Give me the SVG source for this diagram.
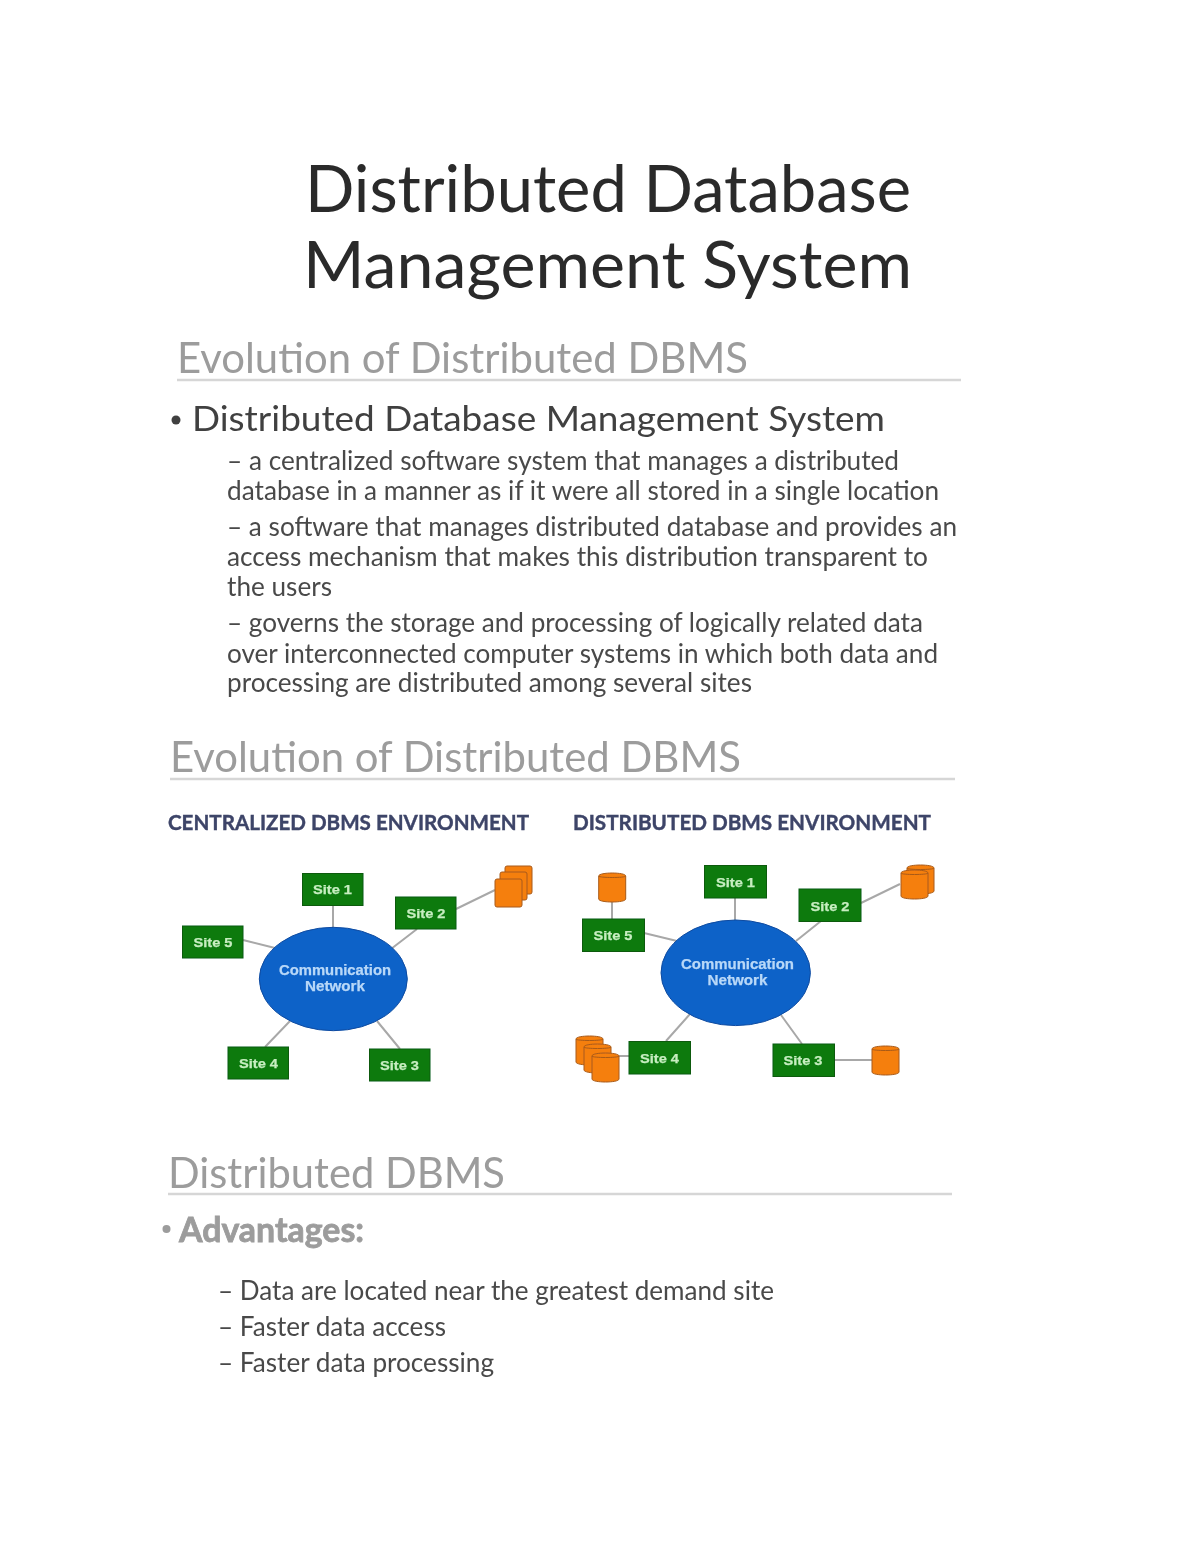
<svg xmlns="http://www.w3.org/2000/svg" width="1200" height="1553" viewBox="0 0 1200 1553">
<style>
text{font-family:Lato,"Carlito","Open Sans",sans-serif;}
.t{font-size:65px;fill:#2a2a2a}
.h{font-size:43px;fill:#9c9c9c}
.b{font-size:35px;fill:#404040}
.s{font-size:26px;fill:#4a4a4a}
.e{font-size:21px;font-weight:700;fill:#3d4468;stroke:#3d4468;stroke-width:.4}
.r{stroke:#d6d6d6;stroke-width:2.500;fill:none}
.site rect{fill:#0a7a10;stroke:#0a5a10;stroke-width:1}
.site text{font-family:"Liberation Sans",sans-serif;font-size:13px;font-weight:700;fill:#c8eec0;stroke:#c8eec0;stroke-width:.25;text-anchor:middle}
.net ellipse{fill:#0f62c8;stroke:#0a4aa0;stroke-width:1}
.net text{font-family:"Liberation Sans",sans-serif;font-size:14px;font-weight:700;fill:#b8d8f8;stroke:#b8d8f8;stroke-width:.25;text-anchor:middle}
.c{stroke:#a8a8a8;stroke-width:2;fill:none}
.cy{fill:#f57f0f;stroke:#a85a18;stroke-width:1}
</style>
<defs>
<filter id="soft" x="0" y="0" width="100%" height="100%"><feGaussianBlur stdDeviation="0.55"/></filter>
<g id="cyl"><path class="cy" d="M0 3C0 -1 27 -1 27 3V26C27 30 0 30 0 26Z"/><path d="M0 3C0 5 27 5 27 3" fill="none" stroke="#a85a18" stroke-width="1"/></g>
<g id="box"><path class="cy" d="M0 2Q0 0 2 0H25Q27 0 27 2V26Q27 28 25 28H2Q0 28 0 26Z"/></g>
</defs>
<rect width="1200" height="1553" fill="#fff"/>
<g filter="url(#soft)">
<g id="page-text">
<text class="t" x="305" y="212" textLength="606" lengthAdjust="spacingAndGlyphs">Distributed Database</text>
<text class="t" x="303" y="288" textLength="609" lengthAdjust="spacingAndGlyphs">Management System</text>
<text class="h" x="177" y="373" textLength="571" lengthAdjust="spacingAndGlyphs">Evolution of Distributed DBMS</text>
<line class="r" x1="177" y1="380" x2="961" y2="380"/>
<circle cx="176" cy="420" r="4.500" fill="#404040"/>
<text class="b" x="192" y="431" textLength="693" lengthAdjust="spacingAndGlyphs">Distributed Database Management System</text>
<text class="s" x="227" y="470" textLength="672" lengthAdjust="spacingAndGlyphs">– a centralized software system that manages a distributed</text>
<text class="s" x="227" y="500" textLength="712" lengthAdjust="spacingAndGlyphs">database in a manner as if it were all stored in a single location</text>
<text class="s" x="227" y="536" textLength="730" lengthAdjust="spacingAndGlyphs">– a software that manages distributed database and provides an</text>
<text class="s" x="227" y="566" textLength="701" lengthAdjust="spacingAndGlyphs">access mechanism that makes this distribution transparent to</text>
<text class="s" x="227" y="596" textLength="105" lengthAdjust="spacingAndGlyphs">the users</text>
<text class="s" x="227" y="632" textLength="696" lengthAdjust="spacingAndGlyphs">– governs the storage and processing of logically related data</text>
<text class="s" x="227" y="663" textLength="711" lengthAdjust="spacingAndGlyphs">over interconnected computer systems in which both data and</text>
<text class="s" x="227" y="692" textLength="525" lengthAdjust="spacingAndGlyphs">processing are distributed among several sites</text>
<text class="h" x="170" y="772" textLength="571" lengthAdjust="spacingAndGlyphs">Evolution of Distributed DBMS</text>
<line class="r" x1="170" y1="779" x2="955" y2="779"/>
<text class="e" x="168" y="830" textLength="361" lengthAdjust="spacingAndGlyphs">CENTRALIZED DBMS ENVIRONMENT</text>
<text class="e" x="573" y="830" textLength="358" lengthAdjust="spacingAndGlyphs">DISTRIBUTED DBMS ENVIRONMENT</text>
<text class="h" x="168" y="1188" textLength="337" lengthAdjust="spacingAndGlyphs">Distributed DBMS</text>
<line class="r" x1="168" y1="1194" x2="952" y2="1194"/>
<circle cx="166.500" cy="1229" r="4" fill="#9c9c9c"/>
<text x="179" y="1242" font-size="34" font-weight="700" fill="#9c9c9c" stroke="#9c9c9c" stroke-width=".8" textLength="185" lengthAdjust="spacingAndGlyphs">Advantages:</text>
<text class="s" x="218" y="1300" textLength="556" lengthAdjust="spacingAndGlyphs">– Data are located near the greatest demand site</text>
<text class="s" x="218" y="1336" textLength="228" lengthAdjust="spacingAndGlyphs">– Faster data access</text>
<text class="s" x="218" y="1372" textLength="276" lengthAdjust="spacingAndGlyphs">– Faster data processing</text>
</g>
<g id="connectors">
<path class="c" d="M333 905V928M243 940L275 948M417 929L391 949M456 909L495 890M290 1021L265 1047M377 1021L400 1049"/>
<path class="c" d="M735 898V921M644 933L677 941M821 921L796 941M861 903L900 884M612 901V919M619 1056H629M690 1014L666 1041M781 1015L802 1044M834 1060H872"/>
</g>
<g id="c-site1" class="site"><rect x="302.500" y="873.500" width="60.500" height="32"/><text x="332.500" y="894" textLength="39" lengthAdjust="spacingAndGlyphs">Site 1</text></g>
<g id="c-site2" class="site"><rect x="395.500" y="897" width="60.500" height="32"/><text x="426" y="917.500" textLength="39" lengthAdjust="spacingAndGlyphs">Site 2</text></g>
<g id="c-site3" class="site"><rect x="369.500" y="1049" width="60.500" height="32"/><text x="399.500" y="1069.500" textLength="39" lengthAdjust="spacingAndGlyphs">Site 3</text></g>
<g id="c-site4" class="site"><rect x="228" y="1047" width="60.500" height="32"/><text x="258.500" y="1068" textLength="39" lengthAdjust="spacingAndGlyphs">Site 4</text></g>
<g id="c-site5" class="site"><rect x="182.500" y="926" width="60.500" height="32"/><text x="213" y="946.500" textLength="39" lengthAdjust="spacingAndGlyphs">Site 5</text></g>
<g id="c-network" class="net"><ellipse cx="333.300" cy="979" rx="74" ry="51.700"/><text x="335" y="974.500" textLength="112" lengthAdjust="spacingAndGlyphs">Communication</text><text x="335" y="990.500" textLength="60" lengthAdjust="spacingAndGlyphs">Network</text></g>
<g id="c-db2"><use href="#box" x="505" y="866"/><use href="#box" x="500" y="872"/><use href="#box" x="495" y="879"/></g>
<g id="d-site1" class="site"><rect x="704.500" y="865.500" width="62" height="32.500"/><text x="735.500" y="886.500" textLength="39" lengthAdjust="spacingAndGlyphs">Site 1</text></g>
<g id="d-site2" class="site"><rect x="799" y="889" width="62" height="32.500"/><text x="830" y="910.500" textLength="39" lengthAdjust="spacingAndGlyphs">Site 2</text></g>
<g id="d-site3" class="site"><rect x="773" y="1044" width="61.500" height="32.500"/><text x="803" y="1065" textLength="39" lengthAdjust="spacingAndGlyphs">Site 3</text></g>
<g id="d-site4" class="site"><rect x="629" y="1041.500" width="61.500" height="32.500"/><text x="659.500" y="1063" textLength="39" lengthAdjust="spacingAndGlyphs">Site 4</text></g>
<g id="d-site5" class="site"><rect x="582.500" y="919" width="62" height="32.500"/><text x="613" y="940" textLength="39" lengthAdjust="spacingAndGlyphs">Site 5</text></g>
<g id="d-network" class="net"><ellipse cx="735.700" cy="972.800" rx="74.700" ry="52.800"/><text x="737.500" y="968.500" textLength="113" lengthAdjust="spacingAndGlyphs">Communication</text><text x="737.500" y="984.500" textLength="60" lengthAdjust="spacingAndGlyphs">Network</text></g>
<g id="d-db5"><use href="#cyl" x="598.700" y="873"/></g>
<g id="d-db2"><use href="#cyl" x="907" y="865"/><use href="#cyl" x="901" y="870"/></g>
<g id="d-db3"><use href="#cyl" x="872" y="1046"/></g>
<g id="d-db4"><use href="#cyl" x="576" y="1036"/><use href="#cyl" x="584" y="1044"/><use href="#cyl" x="592" y="1053"/></g>
</g>
</svg>
